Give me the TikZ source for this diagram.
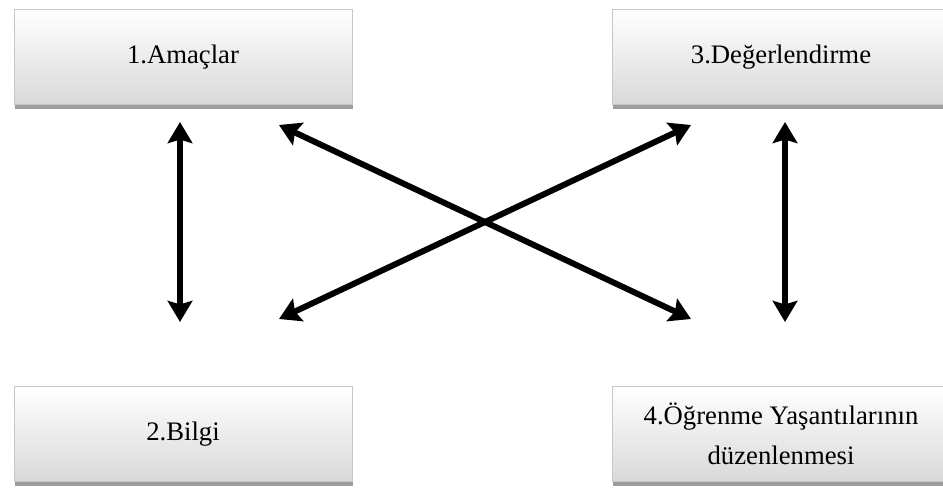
\documentclass[tikz,border=0pt]{standalone}
\usepackage{fontspec}
\setmainfont{Liberation Serif}
\usetikzlibrary{arrows.meta,shadows}

\begin{document}
\begin{tikzpicture}[x=0.02cm, y=0.02cm,
    box/.style={draw=black!22, top color=white, bottom color=black!15,
        minimum width=6.76cm, minimum height=1.9cm, align=center,
        font={\fontsize{15.2pt}{22.7pt}\selectfont},
        drop shadow={shadow xshift=0.5pt, shadow yshift=-2.6pt, fill=black!55, opacity=0.7}},
    arr/.style={line width=3.4pt, {Stealth[length=12pt,width=14pt,inset=2pt]}-{Stealth[length=12pt,width=14pt,inset=2pt]}}]
    \useasboundingbox (0, 0) rectangle (943, -489);

    % boxes
    \node [box] (aims) at (183, -57) {1.Amaçlar};
    \node [box] (eval) at (781, -57) {3.Değerlendirme};
    \node [box] (know) at (183, -434) {2.Bilgi};
    \node [box] (exp) at (781, -434) {4.Öğrenme Yaşantılarının\\düzenlenmesi};

    % arrow ends
    \coordinate (aimsL) at (180, -122);
    \coordinate (knowL) at (180, -322);
    \coordinate (evalR) at (785, -122);
    \coordinate (expR) at (785, -322);
    \coordinate (aimsX) at (279, -125);
    \coordinate (evalX) at (691, -125);
    \coordinate (knowX) at (279, -319);
    \coordinate (expX) at (691, -319);

    % arrows
    \draw [arr] (aimsL) -- (knowL);
    \draw [arr] (evalR) -- (expR);
    \draw [arr] (aimsX) -- (expX);
    \draw [arr] (evalX) -- (knowX);
\end{tikzpicture}
\end{document}
